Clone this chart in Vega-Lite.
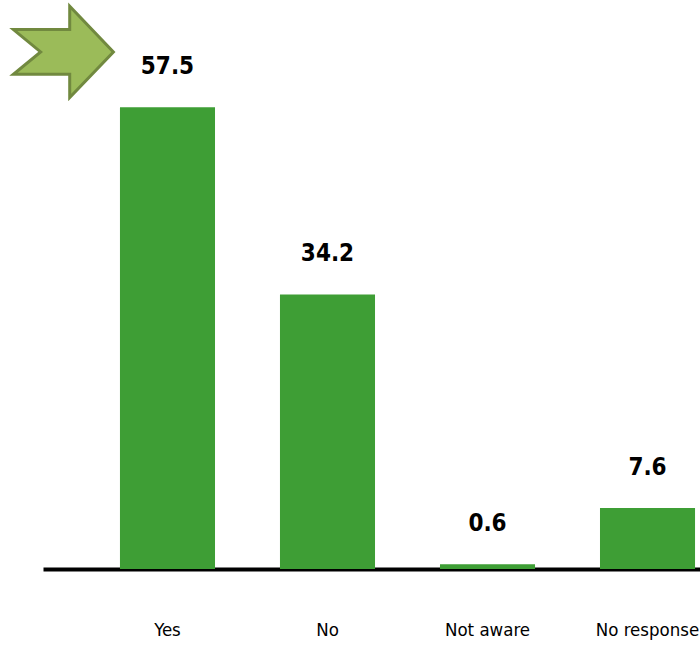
{
  "$schema": "https://vega.github.io/schema/vega-lite/v6.json",
  "autosize": {"type": "none"},
  "width": 729,
  "height": 562,
  "padding": {"left": 43, "top": 7, "right": 0, "bottom": 80},
  "background": "white",
  "config": {"view": {"stroke": null}},
  "data": {"values": [
    {"category": "Yes", "value": 57.5},
    {"category": "No", "value": 34.2},
    {"category": "Not aware", "value": 0.6},
    {"category": "No response", "value": 7.6}
  ]},
  "layer": [
    {
      "mark": {"type": "bar", "color": "#3e9e35"},
      "encoding": {
        "x": {"field": "category", "type": "nominal", "sort": null,
              "scale": {"paddingInner": 0.406, "paddingOuter": 0.481},
              "axis": {"title": null, "labelAngle": 0, "ticks": false, "domainColor": "black", "domainWidth": 4,
                       "labelFont": "DejaVu Sans Condensed, sans-serif", "labelFontSize": 18.5,
                       "labelColor": "black", "labelPadding": 51}},
        "y": {"field": "value", "type": "quantitative", "scale": {"domain": [0, 70]}, "axis": null}
      }
    },
    {
      "mark": {"type": "text", "baseline": "alphabetic", "dy": -33, "font": "DejaVu Sans Condensed, sans-serif",
               "fontSize": 24, "fontWeight": "bold", "color": "black"},
      "encoding": {
        "x": {"field": "category", "type": "nominal", "sort": null},
        "y": {"field": "value", "type": "quantitative"},
        "text": {"field": "value", "type": "quantitative", "format": ".1f"}
      }
    },
    {
      "data": {"values": [{"label": "arrow"}]},
      "mark": {"type": "point", "filled": true, "fill": "#9bbb59", "stroke": "#71893f", "strokeWidth": 3, "opacity": 1,
               "shape": "M -1 -0.447 L 0.126 -0.447 L 0.126 -0.913 L 1 0 L 0.126 0.913 L 0.126 0.447 L -1 0.447 L -0.456 0 Z",
               "size": 10000},
      "encoding": {
        "x": {"datum": "Yes", "type": "nominal", "bandPosition": -0.595},
        "y": {"datum": 64.4, "type": "quantitative"}
      }
    }
  ]
}
